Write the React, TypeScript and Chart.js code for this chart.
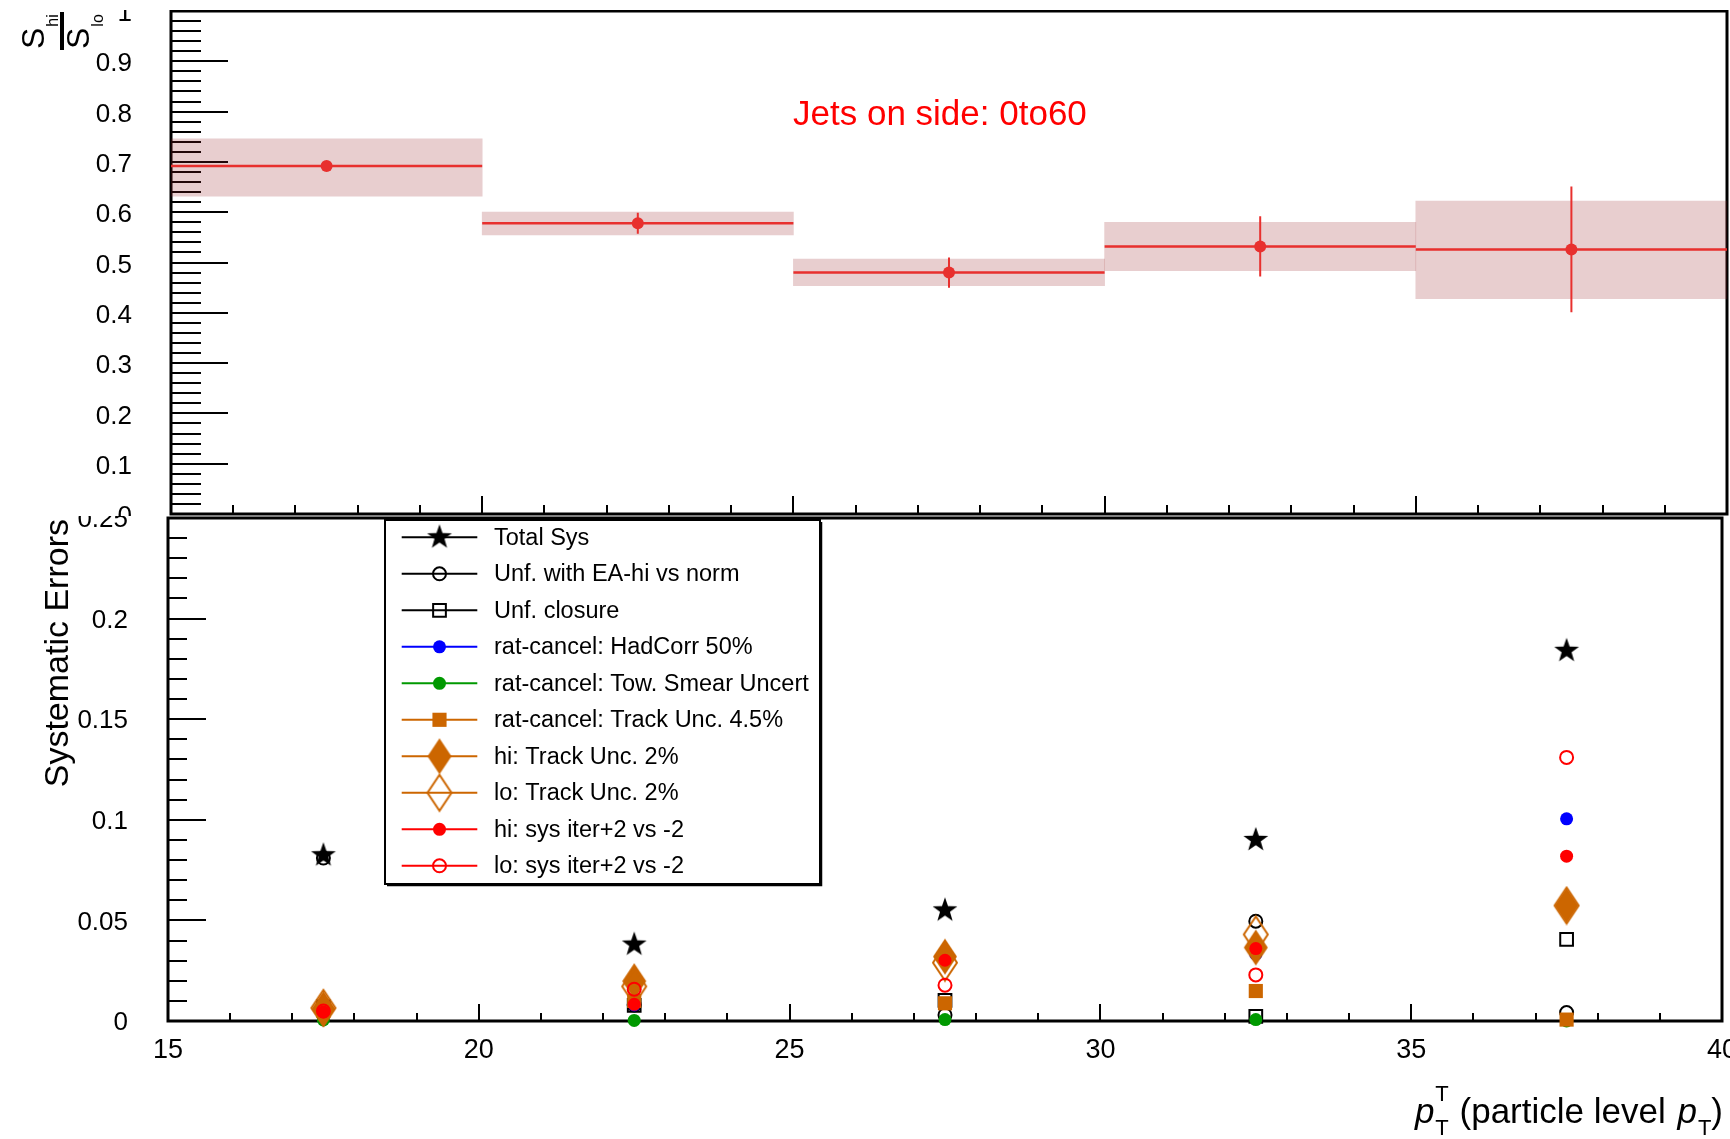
import React, { useEffect, useRef } from 'react';
import { Chart, registerables } from 'chart.js';

Chart.register(...registerables);

const FONT = '"Liberation Sans", Arial, Helvetica, sans-serif';

// ---------------- top panel data ----------------
const binEdges = [15, 20, 25, 30, 35, 40];
const binCenters = [17.5, 22.5, 27.5, 32.5, 37.5];
const ratioValues = [0.692, 0.578, 0.48, 0.532, 0.526];
const ratioStatErr = [0.008, 0.021, 0.03, 0.06, 0.125];
const ratioSysLow = [0.632, 0.555, 0.454, 0.484, 0.428];
const ratioSysHigh = [0.746, 0.6, 0.507, 0.58, 0.622];
const annotationText = 'Jets on side: 0to60';

// ---------------- bottom panel data ----------------
const ptCenters = [17.5, 22.5, 27.5, 32.5, 37.5];
const totalSys = [0.0824, 0.038, 0.055, 0.09, 0.184];
const unfEaHi = [0.081, 0.008, 0.003, 0.0496, 0.0042];
const unfClosure = [0.007, 0.0078, 0.0103, 0.0023, 0.0406];
const hadCorr = [0.005, 0.008, 0.03, 0.0332, 0.1005];
const towSmear = [0.0005, 0.0003, 0.0007, 0.0007, 0.0];
const trackUnc45 = [0.005, 0.01, 0.0088, 0.0149, 0.0007];
const hiTrack2 = [0.006, 0.0198, 0.032, 0.0365, 0.0574];
const loTrack2 = [0.0065, 0.0172, 0.029, 0.043, 0.0574];
const hiIter = [0.0045, 0.0083, 0.0302, 0.036, 0.0819];
const loIter = [0.005, 0.0158, 0.0178, 0.0229, 0.131];

const legendLabels = [
  'Total Sys',
  'Unf. with EA-hi vs norm',
  'Unf. closure',
  'rat-cancel: HadCorr 50%',
  'rat-cancel: Tow. Smear Uncert',
  'rat-cancel: Track Unc. 4.5%',
  'hi: Track Unc. 2%',
  'lo: Track Unc. 2%',
  'hi: sys iter+2 vs -2',
  'lo: sys iter+2 vs -2',
];

const RED = '#e8302e';
const BAND = 'rgba(150,30,35,0.22)';
const ORANGE = '#cc6600';
const GREEN = '#009900';
const BLUE = '#0000ff';
const PURE_RED = '#ff0000';
const TRANSPARENT = 'rgba(0,0,0,0)';

function makeStar(color: string, outerR: number, innerR: number) {
  const size = Math.ceil(outerR * 2 + 4);
  const c = document.createElement('canvas');
  c.width = size;
  c.height = size;
  const g = c.getContext('2d')!;
  g.translate(size / 2, size / 2);
  g.beginPath();
  for (let i = 0; i < 10; i++) {
    const r = i % 2 === 0 ? outerR : innerR;
    const a = -Math.PI / 2 + (i * Math.PI) / 5;
    if (i === 0) g.moveTo(r * Math.cos(a), r * Math.sin(a));
    else g.lineTo(r * Math.cos(a), r * Math.sin(a));
  }
  g.closePath();
  g.fillStyle = color;
  g.fill();
  return c;
}

function makeDiamond(color: string, hw: number, hh: number, filled: boolean) {
  const w = Math.ceil(hw * 2 + 4);
  const h = Math.ceil(hh * 2 + 4);
  const c = document.createElement('canvas');
  c.width = w;
  c.height = h;
  const g = c.getContext('2d')!;
  g.translate(w / 2, h / 2);
  g.beginPath();
  g.moveTo(0, -hh);
  g.lineTo(hw, 0);
  g.lineTo(0, hh);
  g.lineTo(-hw, 0);
  g.closePath();
  if (filled) {
    g.fillStyle = color;
    g.fill();
  } else {
    g.strokeStyle = color;
    g.lineWidth = 2;
    g.stroke();
  }
  return c;
}

type FrameCfg = {
  xMinor: number;
  xMajor: number;
  xMajLen: number;
  xMinLen: number;
  yMinor: number;
  yMajor: number;
  yMajLen: number;
  yMinLen: number;
};

function makeFramePlugin(cfg: FrameCfg) {
  return {
    id: 'rootFrame',
    beforeDatasetsDraw(chart: any) {
      const { ctx, chartArea: a, scales } = chart;
      const xs = scales.x;
      const ys = scales.y;
      ctx.save();
      ctx.strokeStyle = '#000';
      ctx.lineWidth = 2;
      ctx.beginPath();
      const nx = Math.round((xs.max - xs.min) / cfg.xMinor);
      const rx = Math.round(cfg.xMajor / cfg.xMinor);
      for (let k = 0; k <= nx; k++) {
        const v = xs.min + k * cfg.xMinor;
        const px = Math.round(xs.getPixelForValue(v));
        const len = k % rx === 0 ? cfg.xMajLen : cfg.xMinLen;
        ctx.moveTo(px, a.bottom);
        ctx.lineTo(px, a.bottom - len);
      }
      const ny = Math.round((ys.max - ys.min) / cfg.yMinor);
      const ry = Math.round(cfg.yMajor / cfg.yMinor);
      for (let k = 0; k <= ny; k++) {
        const v = ys.min + k * cfg.yMinor;
        const py = Math.round(ys.getPixelForValue(v));
        const len = k % ry === 0 ? cfg.yMajLen : cfg.yMinLen;
        ctx.moveTo(a.left, py);
        ctx.lineTo(a.left + len, py);
      }
      ctx.stroke();
      ctx.lineWidth = 3;
      ctx.strokeRect(a.left, a.top, a.right - a.left, a.bottom - a.top);
      ctx.restore();
    },
  };
}

function drawMarker(ctx: CanvasRenderingContext2D, ds: any, x: number, y: number) {
  const style = ds.pointStyle;
  if (typeof style !== 'string') {
    ctx.drawImage(style, x - style.width / 2, y - style.height / 2);
    return;
  }
  const r = ds.pointRadius;
  ctx.beginPath();
  if (style === 'circle') {
    ctx.arc(x, y, r, 0, Math.PI * 2);
  } else {
    const h = r * Math.SQRT1_2;
    ctx.rect(x - h, y - h, 2 * h, 2 * h);
  }
  if (ds.pointBackgroundColor !== TRANSPARENT) {
    ctx.fillStyle = ds.pointBackgroundColor;
    ctx.fill();
  }
  if (ds.pointBorderWidth > 0) {
    ctx.strokeStyle = ds.pointBorderColor;
    ctx.lineWidth = ds.pointBorderWidth;
    ctx.stroke();
  }
}

function tickFont(size: number) {
  return { family: FONT, size };
}

function buildTop(canvas: HTMLCanvasElement) {
  const hLine: any[] = [];
  binCenters.forEach((_, i) => {
    hLine.push({ x: binEdges[i], y: ratioValues[i] });
    hLine.push({ x: binEdges[i + 1], y: ratioValues[i] });
    hLine.push({ x: binEdges[i + 1], y: null });
  });
  const eBars: any[] = [];
  binCenters.forEach((c, i) => {
    eBars.push({ x: c, y: ratioValues[i] - ratioStatErr[i] });
    eBars.push({ x: c, y: ratioValues[i] + ratioStatErr[i] });
    eBars.push({ x: c, y: null });
  });

  const topDecor = {
    id: 'topDecor',
    afterDraw(chart: any) {
      const ctx = chart.ctx as CanvasRenderingContext2D;
      ctx.save();
      // annotation
      ctx.fillStyle = '#ff0000';
      ctx.font = `35px ${FONT}`;
      ctx.textAlign = 'left';
      ctx.textBaseline = 'alphabetic';
      ctx.fillText(annotationText, 793, 115);
      // y title: S_hi / S_lo (rotated fraction)
      ctx.fillStyle = '#000';
      const drawRot = (bx: number, by: number, main: string, sub: string) => {
        ctx.save();
        ctx.translate(bx, by);
        ctx.rotate(-Math.PI / 2);
        ctx.font = `32px ${FONT}`;
        ctx.fillText(main, 0, 0);
        const w = ctx.measureText(main).width;
        ctx.font = `16px ${FONT}`;
        ctx.fillText(sub, w + 1, 14);
        ctx.restore();
      };
      drawRot(44, 39, 'S', 'hi');
      drawRot(89, 39, 'S', 'lo');
      ctx.fillRect(60, 2, 4, 38);
      ctx.restore();
    },
  };

  return new Chart(canvas, {
    type: 'bar',
    data: {
      datasets: [
        {
          type: 'bar',
          data: binCenters.map((c, i) => ({ x: c, y: [ratioSysLow[i], ratioSysHigh[i]] })) as any,
          backgroundColor: BAND,
          borderWidth: 0,
          barPercentage: 1,
          categoryPercentage: 1,
          grouped: false,
          order: 4,
        } as any,
        {
          type: 'line',
          data: hLine,
          borderColor: RED,
          borderWidth: 2.5,
          pointRadius: 0,
          spanGaps: false,
          order: 3,
        } as any,
        {
          type: 'line',
          data: eBars,
          borderColor: RED,
          borderWidth: 2,
          pointRadius: 0,
          spanGaps: false,
          order: 2,
        } as any,
        {
          type: 'scatter',
          data: binCenters.map((c, i) => ({ x: c, y: ratioValues[i] })),
          pointRadius: 6,
          pointBackgroundColor: RED,
          pointBorderWidth: 0,
          order: 1,
        } as any,
      ],
    },
    options: {
      animation: false,
      responsive: false,
      events: [],
      layout: { padding: { left: 0, right: 3, top: 1, bottom: 4 }, autoPadding: false } as any,
      plugins: { legend: { display: false }, tooltip: { enabled: false } },
      scales: {
        x: {
          type: 'linear',
          min: 15,
          max: 40,
          offset: false,
          display: false,
          afterFit: (s: any) => {
            s.paddingLeft = 0;
            s.paddingRight = 0;
          },
        },
        y: {
          type: 'linear',
          min: 0,
          max: 1,
          grid: { display: false, drawTicks: false },
          border: { display: false },
          ticks: {
            stepSize: 0.1,
            padding: 39,
            labelOffset: 3,
            color: '#000',
            font: tickFont(26),
            callback: (v: any) => (v === 0 ? '0' : v === 1 ? '1' : Number(v).toFixed(1)),
          },
          afterFit: (s: any) => {
            s.width = 171;
            s.paddingTop = 0;
            s.paddingBottom = 0;
          },
        },
      },
    } as any,
    plugins: [
      makeFramePlugin({ xMinor: 1, xMajor: 5, xMajLen: 18, xMinLen: 9, yMinor: 0.02, yMajor: 0.1, yMajLen: 57, yMinLen: 30 }),
      topDecor,
    ],
  });
}

function buildBottom(canvas: HTMLCanvasElement) {
  const star = makeStar('#000', 13, 5.2);
  const dFull = makeDiamond(ORANGE, 12, 18, true);
  const dOpen = makeDiamond(ORANGE, 12, 18, false);

  const series = [totalSys, unfEaHi, unfClosure, hadCorr, towSmear, trackUnc45, hiTrack2, loTrack2, hiIter, loIter];
  const styles: any[] = [
    { color: '#000', pointStyle: star, r: 10, fill: true, bw: 0 },
    { color: '#000', pointStyle: 'circle', r: 6.5, fill: false, bw: 2 },
    { color: '#000', pointStyle: 'rect', r: 9, fill: false, bw: 2 },
    { color: BLUE, pointStyle: 'circle', r: 6.5, fill: true, bw: 0 },
    { color: GREEN, pointStyle: 'circle', r: 6.5, fill: true, bw: 0 },
    { color: ORANGE, pointStyle: 'rect', r: 10, fill: true, bw: 0 },
    { color: ORANGE, pointStyle: dFull, r: 12, fill: true, bw: 0 },
    { color: ORANGE, pointStyle: dOpen, r: 12, fill: false, bw: 0 },
    { color: PURE_RED, pointStyle: 'circle', r: 6.5, fill: true, bw: 0 },
    { color: PURE_RED, pointStyle: 'circle', r: 6.5, fill: false, bw: 2 },
  ];
  const datasets = series.map((vals, i) => ({
    type: 'scatter',
    label: legendLabels[i],
    data: ptCenters.map((c, j) => ({ x: c, y: vals[j] })),
    pointStyle: styles[i].pointStyle,
    pointRadius: styles[i].r,
    pointBackgroundColor: styles[i].fill ? styles[i].color : TRANSPARENT,
    pointBorderColor: styles[i].color,
    pointBorderWidth: styles[i].bw,
    borderColor: styles[i].color,
    showLine: false,
    clip: false,
    order: series.length - i,
  }));

  const bg = {
    id: 'whiteBg',
    beforeDraw(chart: any) {
      const ctx = chart.ctx;
      ctx.save();
      ctx.fillStyle = '#fff';
      ctx.fillRect(0, 0, chart.width, chart.height);
      ctx.restore();
    },
  };

  const decor = {
    id: 'bottomDecor',
    afterDraw(chart: any) {
      const ctx = chart.ctx as CanvasRenderingContext2D;
      const dsets = chart.data.datasets;
      ctx.save();
      // legend box
      const bx = 385, by = 4, bw = 435, bh = 364;
      ctx.fillStyle = '#fff';
      ctx.fillRect(bx, by, bw, bh);
      ctx.strokeStyle = '#000';
      ctx.lineWidth = 2;
      ctx.strokeRect(bx, by, bw, bh);
      ctx.beginPath();
      ctx.moveTo(bx + 2, by + bh + 1.5);
      ctx.lineTo(bx + bw + 1.5, by + bh + 1.5);
      ctx.lineTo(bx + bw + 1.5, by + 2);
      ctx.lineWidth = 1.5;
      ctx.stroke();
      dsets.forEach((ds: any, i: number) => {
        const y = 21.3 + 36.5 * i;
        ctx.beginPath();
        ctx.strokeStyle = ds.borderColor;
        ctx.lineWidth = 2;
        ctx.moveTo(401.7, y);
        ctx.lineTo(477.3, y);
        ctx.stroke();
        drawMarker(ctx, ds, 439.5, y);
        ctx.fillStyle = '#000';
        ctx.font = `23.5px ${FONT}`;
        ctx.textAlign = 'left';
        ctx.textBaseline = 'middle';
        ctx.fillText(ds.label, 494, y + 1);
      });
      // y title
      ctx.save();
      ctx.translate(68, 3);
      ctx.rotate(-Math.PI / 2);
      ctx.font = `34px ${FONT}`;
      ctx.textAlign = 'right';
      ctx.textBaseline = 'alphabetic';
      ctx.fillStyle = '#000';
      ctx.fillText('Systematic Errors', 0, 0);
      ctx.restore();
      // x title: p_T^T (particle level p_T)
      const B = 607;
      const big = `35px ${FONT}`;
      const bigIt = `italic 35px ${FONT}`;
      const small = `22px ${FONT}`;
      ctx.textAlign = 'left';
      ctx.textBaseline = 'alphabetic';
      ctx.fillStyle = '#000';
      const m = (f: string, t: string) => {
        ctx.font = f;
        return ctx.measureText(t).width;
      };
      const mid = ' (particle level ';
      const total = m(bigIt, 'p') + 1 + m(small, 'T') + 1 + m(big, mid) + 2 + m(bigIt, 'p') + 1 + m(small, 'T') + m(big, ')');
      let x = 1723 - total;
      ctx.font = bigIt;
      ctx.fillText('p', x, B);
      x += m(bigIt, 'p') + 1;
      ctx.font = small;
      ctx.fillText('T', x, B - 22);
      ctx.fillText('T', x, B + 12);
      x += m(small, 'T') + 1;
      ctx.font = big;
      ctx.fillText(mid, x, B);
      x += m(big, mid) + 2;
      ctx.font = bigIt;
      ctx.fillText('p', x, B);
      x += m(bigIt, 'p') + 1;
      ctx.font = small;
      ctx.fillText('T', x, B + 12);
      x += m(small, 'T');
      ctx.font = big;
      ctx.fillText(')', x, B);
      ctx.restore();
    },
  };

  return new Chart(canvas, {
    type: 'scatter',
    data: { datasets: datasets as any },
    options: {
      animation: false,
      responsive: false,
      events: [],
      layout: { padding: { left: 0, right: 8, top: 2, bottom: 0 }, autoPadding: false } as any,
      plugins: { legend: { display: false }, tooltip: { enabled: false } },
      scales: {
        x: {
          type: 'linear',
          min: 15,
          max: 40,
          grid: { display: false, drawTicks: false },
          border: { display: false },
          ticks: { stepSize: 5, padding: 13, color: '#000', font: tickFont(27), maxRotation: 0, autoSkip: false },
          afterFit: (s: any) => {
            s.height = 118;
            s.paddingLeft = 0;
            s.paddingRight = 0;
          },
        },
        y: {
          type: 'linear',
          min: 0,
          max: 0.25,
          grid: { display: false, drawTicks: false },
          border: { display: false },
          ticks: {
            stepSize: 0.05,
            padding: 40,
            labelOffset: 2,
            color: '#000',
            font: tickFont(26),
            callback: (v: any) => String(parseFloat(Number(v).toFixed(2))),
          },
          afterFit: (s: any) => {
            s.width = 168;
            s.paddingTop = 0;
            s.paddingBottom = 0;
          },
        },
      },
    } as any,
    plugins: [
      bg,
      makeFramePlugin({ xMinor: 1, xMajor: 5, xMajLen: 17, xMinLen: 8, yMinor: 0.01, yMajor: 0.05, yMajLen: 38, yMinLen: 19 }),
      decor,
    ],
  });
}

export default function App() {
  const topRef = useRef<HTMLCanvasElement>(null);
  const botRef = useRef<HTMLCanvasElement>(null);
  useEffect(() => {
    Chart.defaults.font.family = FONT;
    Chart.defaults.color = '#000';
    const top = buildTop(topRef.current!);
    const bot = buildBottom(botRef.current!);
    return () => {
      top.destroy();
      bot.destroy();
    };
  }, []);
  return (
    <div style={{ position: 'absolute', left: 0, top: 0, width: 1730, height: 1139, background: '#fff', overflow: 'hidden' }}>
      <canvas ref={topRef} width={1730} height={508} style={{ position: 'absolute', left: 0, top: 10 }} />
      <canvas ref={botRef} width={1730} height={623} style={{ position: 'absolute', left: 0, top: 516 }} />
    </div>
  );
}
